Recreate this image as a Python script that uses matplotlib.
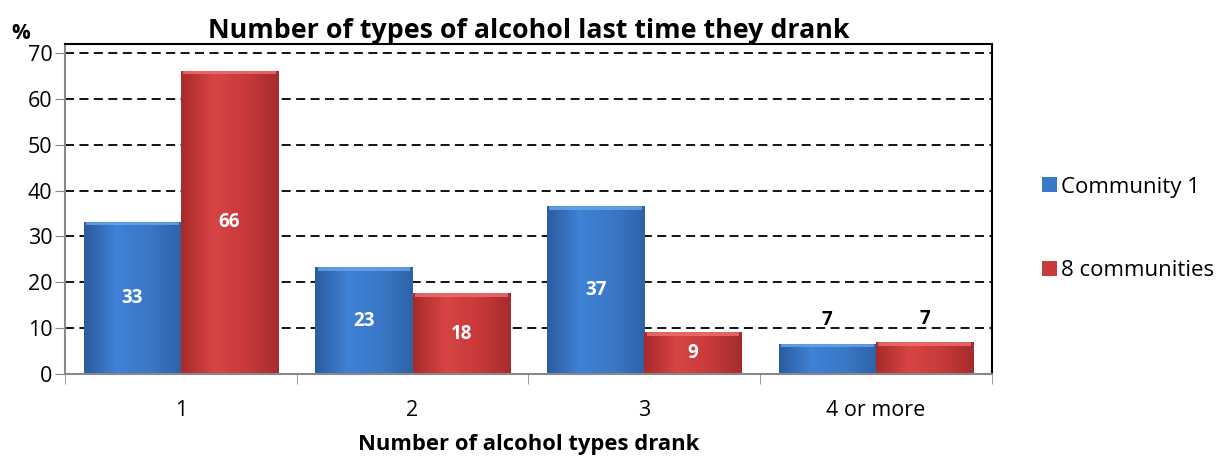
import numpy as np
import matplotlib
matplotlib.use('Agg')
import matplotlib.pyplot as plt
from matplotlib.colors import LinearSegmentedColormap

# Data
categories = ['1', '2', '3', '4 or more']
community1 = [33.2, 23.3, 36.6, 6.6]
eight_communities = [66.2, 17.6, 9.1, 6.9]
labels_c1 = ['33', '23', '37', '7']
labels_8c = ['66', '18', '9', '7']
y_ticks = [0, 10, 20, 30, 40, 50, 60, 70]

BLUE = '#3a78c8'
RED = '#c93a3a'
plt.rcParams['font.family'] = ['Open Sans', 'DejaVu Sans']

fig = plt.figure(figsize=(12.26, 4.58), dpi=100)
ax = fig.add_axes([0.053, 0.1834, 0.756, 0.7206])

x = np.arange(len(categories))
w = 0.42

ax.set_axisbelow(True)
ax.yaxis.grid(True, color='black', linestyle=(0, (5, 3)), linewidth=1.3)

blue_cmap = LinearSegmentedColormap.from_list('b', ['#2b5c9f', '#3f82d6', '#3a78c8', '#2d63a8'])
red_cmap = LinearSegmentedColormap.from_list('r', ['#a82a2a', '#d84444', '#c83a3a', '#a52c2c'])
grad = np.linspace(0, 1, 100).reshape(1, -1)

b1 = ax.bar(x - w / 2, community1, w, color=BLUE, label='Community 1', zorder=2)
b2 = ax.bar(x + w / 2, eight_communities, w, color=RED, label='8 communities', zorder=2)

# shaded look like the Excel bars
for bars, cmap, top in ((b1, blue_cmap, '#6aa6ea'), (b2, red_cmap, '#f07070')):
    for p in bars:
        x0, y0 = p.get_x(), p.get_y()
        ww, hh = p.get_width(), p.get_height()
        im = ax.imshow(grad, cmap=cmap, aspect='auto', extent=(x0, x0 + ww, y0, y0 + hh),
                       zorder=2.5, interpolation='bicubic')
        im.set_clip_path(p)
        ax.fill_between([x0 + 0.01, x0 + ww - 0.01], y0 + hh - 0.8, y0 + hh,
                        color=top, alpha=0.8, zorder=2.6, linewidth=0)

for bars, labs in ((b1, labels_c1), (b2, labels_8c)):
    for p, lab in zip(bars, labs):
        h = p.get_height()
        cx = p.get_x() + p.get_width() / 2
        if h > 8:
            ax.text(cx, h / 2, lab, ha='center', va='center', color='white',
                    fontsize=13.5, fontweight='bold', zorder=4)
        else:
            ax.text(cx, h + 3.0, lab, ha='center', va='bottom', color='black',
                    fontsize=13.5, fontweight='bold', zorder=4)

ax.set_xlim(-0.5, len(categories) - 0.5)
ax.set_ylim(0, 72)
ax.set_yticks(y_ticks)
ax.set_xticks(x)
ax.set_xticklabels(categories)
ax.set_xticks(np.arange(len(categories) + 1) - 0.5, minor=True)
ax.tick_params(axis='x', which='major', length=0, labelsize=15.5, pad=19)
ax.tick_params(axis='x', which='minor', length=7, color='#888888', direction='out')
ax.tick_params(axis='y', length=7, color='#888888', labelsize=15.5, pad=2)

for s in ('left', 'bottom'):
    ax.spines[s].set_color('#888888')
    ax.spines[s].set_linewidth(1.5)
for s in ('top', 'right'):
    ax.spines[s].set_color('black')
    ax.spines[s].set_linewidth(1.5)

ax.set_xlabel('Number of alcohol types drank', fontsize=15.8, fontweight='bold', labelpad=9)
ax.set_title('Number of types of alcohol last time they drank', fontsize=19.3,
             fontweight='bold', pad=3)
fig.text(0.009, 0.915, '%', fontsize=15, fontweight='bold')

leg = ax.legend(loc='center left', bbox_to_anchor=(1.033, 0.44), frameon=False,
                fontsize=16, handlelength=0.65, handleheight=0.65, handletextpad=0.2,
                labelspacing=2.8)

fig.savefig('out.png', dpi=100)
